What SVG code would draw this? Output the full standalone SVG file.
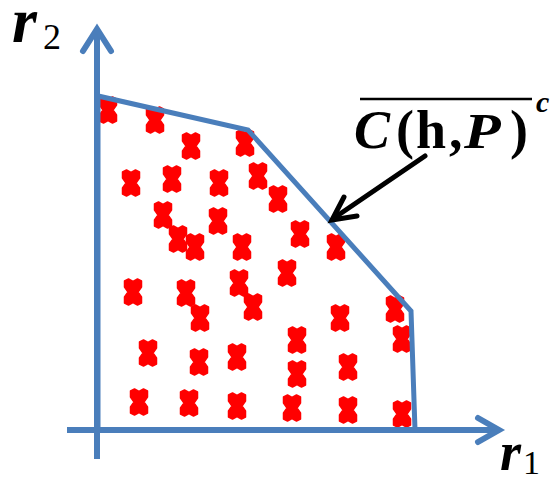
<svg xmlns="http://www.w3.org/2000/svg" xmlns:xlink="http://www.w3.org/1999/xlink" width="558" height="482" viewBox="0 0 558 482">
<style>
.ax{fill:none;stroke:#4A7EBB;stroke-width:6;stroke-linecap:butt;}
.ah{fill:none;stroke:#4A7EBB;stroke-width:6;stroke-linecap:round;stroke-linejoin:miter;}
.poly{fill:none;stroke:#4A7EBB;stroke-width:5;stroke-linejoin:miter;}
.arr{fill:none;stroke:#000;stroke-width:5;stroke-linecap:round;}
.t{font-family:"Liberation Serif","Times New Roman",serif;fill:#000;}
.dot{fill:#FF0000;stroke:#FF0000;stroke-width:1.5;stroke-linejoin:round;}
</style>
<defs>
<path id="m" class="dot" d="M -8.5,-11 L -4.5,-13 L 0,-10.5 L 4.5,-13 L 8.5,-11 L 8.5,-5 L 5,0 L 8.5,5 L 8.5,11 L 4.5,13 L 0,10.5 L -4.5,13 L -8.5,11 L -8.5,5 L -5,0 L -8.5,-5 Z"/>
</defs>
<g id="markers">
<use href="#m" x="108" y="110"/><use href="#m" x="155" y="120"/><use href="#m" x="191" y="146"/><use href="#m" x="245" y="143"/>
<use href="#m" x="131" y="183"/><use href="#m" x="172" y="179"/><use href="#m" x="219" y="183"/><use href="#m" x="258" y="176"/>
<use href="#m" x="278" y="199"/><use href="#m" x="163" y="215"/><use href="#m" x="218" y="221"/><use href="#m" x="178" y="239"/>
<use href="#m" x="195" y="247"/><use href="#m" x="242" y="247"/><use href="#m" x="300" y="234"/><use href="#m" x="336" y="247"/>
<use href="#m" x="133" y="292"/><use href="#m" x="186" y="293"/><use href="#m" x="239" y="283"/><use href="#m" x="287" y="273"/>
<use href="#m" x="200" y="318"/><use href="#m" x="253" y="307"/><use href="#m" x="340" y="318"/><use href="#m" x="395" y="309"/>
<use href="#m" x="402" y="339"/><use href="#m" x="297" y="340"/><use href="#m" x="148" y="353"/><use href="#m" x="199" y="362"/>
<use href="#m" x="237" y="357"/><use href="#m" x="297" y="374"/><use href="#m" x="348" y="367"/><use href="#m" x="139" y="402"/>
<use href="#m" x="189" y="403"/><use href="#m" x="237" y="406"/><use href="#m" x="292" y="408"/><use href="#m" x="348" y="410"/>
<use href="#m" x="402" y="414"/>
</g>
<g id="region">
<polyline class="poly" points="98,430 98,96 248,130 411,311 415,430"/>
</g>
<g id="axes">
<line class="ax" x1="97" y1="459" x2="97" y2="30"/>
<polyline class="ah" points="83,51 97,29 111,51"/>
<line class="ax" x1="67" y1="430" x2="498" y2="430"/>
<polyline class="ah" points="478,418 499,430 478,442"/>
</g>
<g id="connectors">
<line class="arr" x1="425" y1="156" x2="334" y2="218"/>
<polyline class="arr" points="344,197 332,220 357,216"/>
</g>
<g id="labels">
<text class="t" x="12" y="42" font-size="64" font-style="italic" font-weight="bold">r</text>
<text class="t" x="43" y="49" font-size="36">2</text>
<text class="t" x="500" y="470" font-size="54" font-style="italic" font-weight="bold">r</text>
<text class="t" x="523" y="474" font-size="34">1</text>
<text class="t" y="148" font-size="54" font-weight="bold"><tspan x="354" font-style="italic">C</tspan><tspan x="396">(</tspan><tspan x="416">h</tspan><tspan x="449">,</tspan></text>
<text class="t" font-size="50" font-weight="bold" font-style="italic" transform="translate(464,148) scale(1.2,1)">P</text>
<text class="t" x="510" y="148" font-size="54" font-weight="bold">)</text>
<line x1="360" y1="99" x2="532" y2="99" stroke="#000" stroke-width="2.5"/>
<text class="t" x="536" y="112" font-size="30" font-style="italic" font-weight="bold">c</text>
</g>
</svg>
